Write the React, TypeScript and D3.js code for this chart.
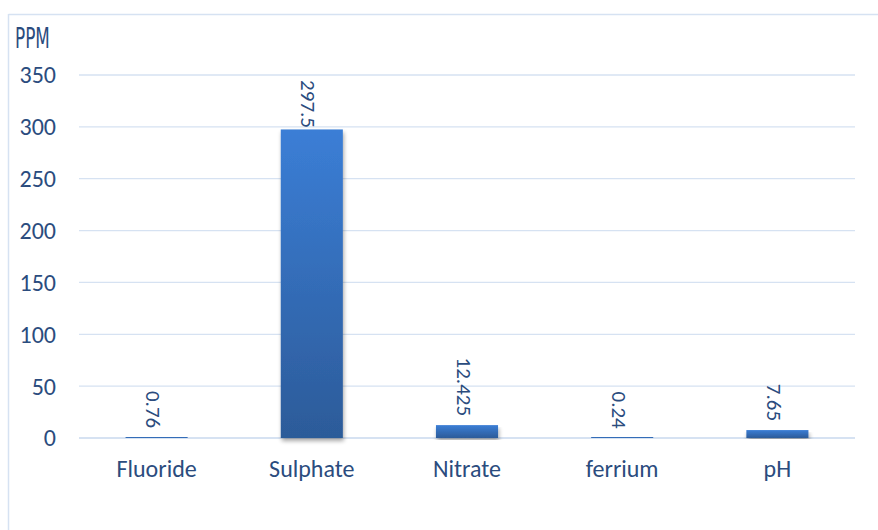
import React from "react";
import * as d3 from "d3";

const categories: string[] = ["Fluoride", "Sulphate", "Nitrate", "ferrium", "pH"];
const values: number[] = [0.76, 297.5, 12.425, 0.24, 7.65];
const valueLabels: string[] = ["0.76", "297.5", "12.425", "0.24", "7.65"];
const yTicks: number[] = [0, 50, 100, 150, 200, 250, 300, 350];
const unitLabel = "PPM";

const W = 878;
const H = 530;
const plot = { left: 79, right: 855, top: 75, bottom: 438 };
const textColor = "#2B4C7E";
const gridColor = "#D6E2F2";
const font = "Carlito, Calibri, 'Open Sans', sans-serif";

export default function App() {
  const x = d3
    .scaleBand<string>()
    .domain(categories)
    .range([plot.left, plot.right])
    .paddingInner(0.6)
    .paddingOuter(0.3);
  const y = d3.scaleLinear().domain([0, 350]).range([plot.bottom, plot.top]);

  return (
    <svg
      width={W}
      height={H}
      style={{ position: "absolute", left: 0, top: 0, background: "#fff" }}
    >
      <defs>
        <linearGradient id="barGrad" x1="0" y1="0" x2="0" y2="1">
          <stop offset="0%" stopColor="#3B7ED6" />
          <stop offset="100%" stopColor="#2C5B99" />
        </linearGradient>
        <filter id="barShadow" x="-20%" y="-5%" width="140%" height="115%">
          <feGaussianBlur in="SourceAlpha" stdDeviation="2.2" />
          <feOffset dx="1" dy="3" result="b" />
          <feComponentTransfer>
            <feFuncA type="linear" slope="0.35" />
          </feComponentTransfer>
          <feMerge>
            <feMergeNode />
            <feMergeNode in="SourceGraphic" />
          </feMerge>
        </filter>
      </defs>

      {/* chart frame */}
      <line x1={8.5} x2={W} y1={14.5} y2={14.5} stroke={gridColor} strokeWidth={1.5} />
      <line x1={8.5} x2={8.5} y1={14} y2={H} stroke={gridColor} strokeWidth={1.5} />

      {/* unit label */}
      <text
        transform="translate(15,48) scale(0.58,1)"
        fontFamily="'DejaVu Sans', sans-serif"
        fontSize={29}
        fill={textColor}
      >
        {unitLabel}
      </text>

      {/* gridlines and y tick labels */}
      {yTicks.map((t) => (
        <g key={t}>
          <line
            x1={plot.left}
            x2={plot.right}
            y1={y(t)}
            y2={y(t)}
            stroke={gridColor}
            strokeWidth={t === 0 ? 2 : 1.3}
          />
          <text
            x={56}
            y={y(t)}
            dy="0.35em"
            textAnchor="end"
            fontFamily={font}
            fontSize={24}
            fill={textColor}
          >
            {t}
          </text>
        </g>
      ))}

      {/* bars */}
      {categories.map((c, i) => {
        const top = y(values[i]);
        const h = Math.max(y(0) - top, 1);
        return (
          <rect
            key={c}
            x={x(c)!}
            y={y(0) - h}
            width={x.bandwidth()}
            height={h}
            fill="url(#barGrad)"
            filter="url(#barShadow)"
          />
        );
      })}

      {/* rotated value labels */}
      {categories.map((c, i) => {
        const cx = x(c)! + x.bandwidth() / 2 - 3;
        const endY = Math.max(y(values[i]) - 9, plot.top + 53);
        return (
          <text
            key={c}
            transform={`translate(${cx},${endY}) rotate(90)`}
            textAnchor="end"
            dy="0.35em"
            fontFamily={font}
            fontSize={21}
            fill={textColor}
          >
            {valueLabels[i]}
          </text>
        );
      })}

      {/* category labels */}
      {categories.map((c) => (
        <text
          key={c}
          x={x(c)! + x.bandwidth() / 2}
          y={477}
          textAnchor="middle"
          fontFamily={font}
          fontSize={24}
          fill={textColor}
        >
          {c}
        </text>
      ))}
    </svg>
  );
}
